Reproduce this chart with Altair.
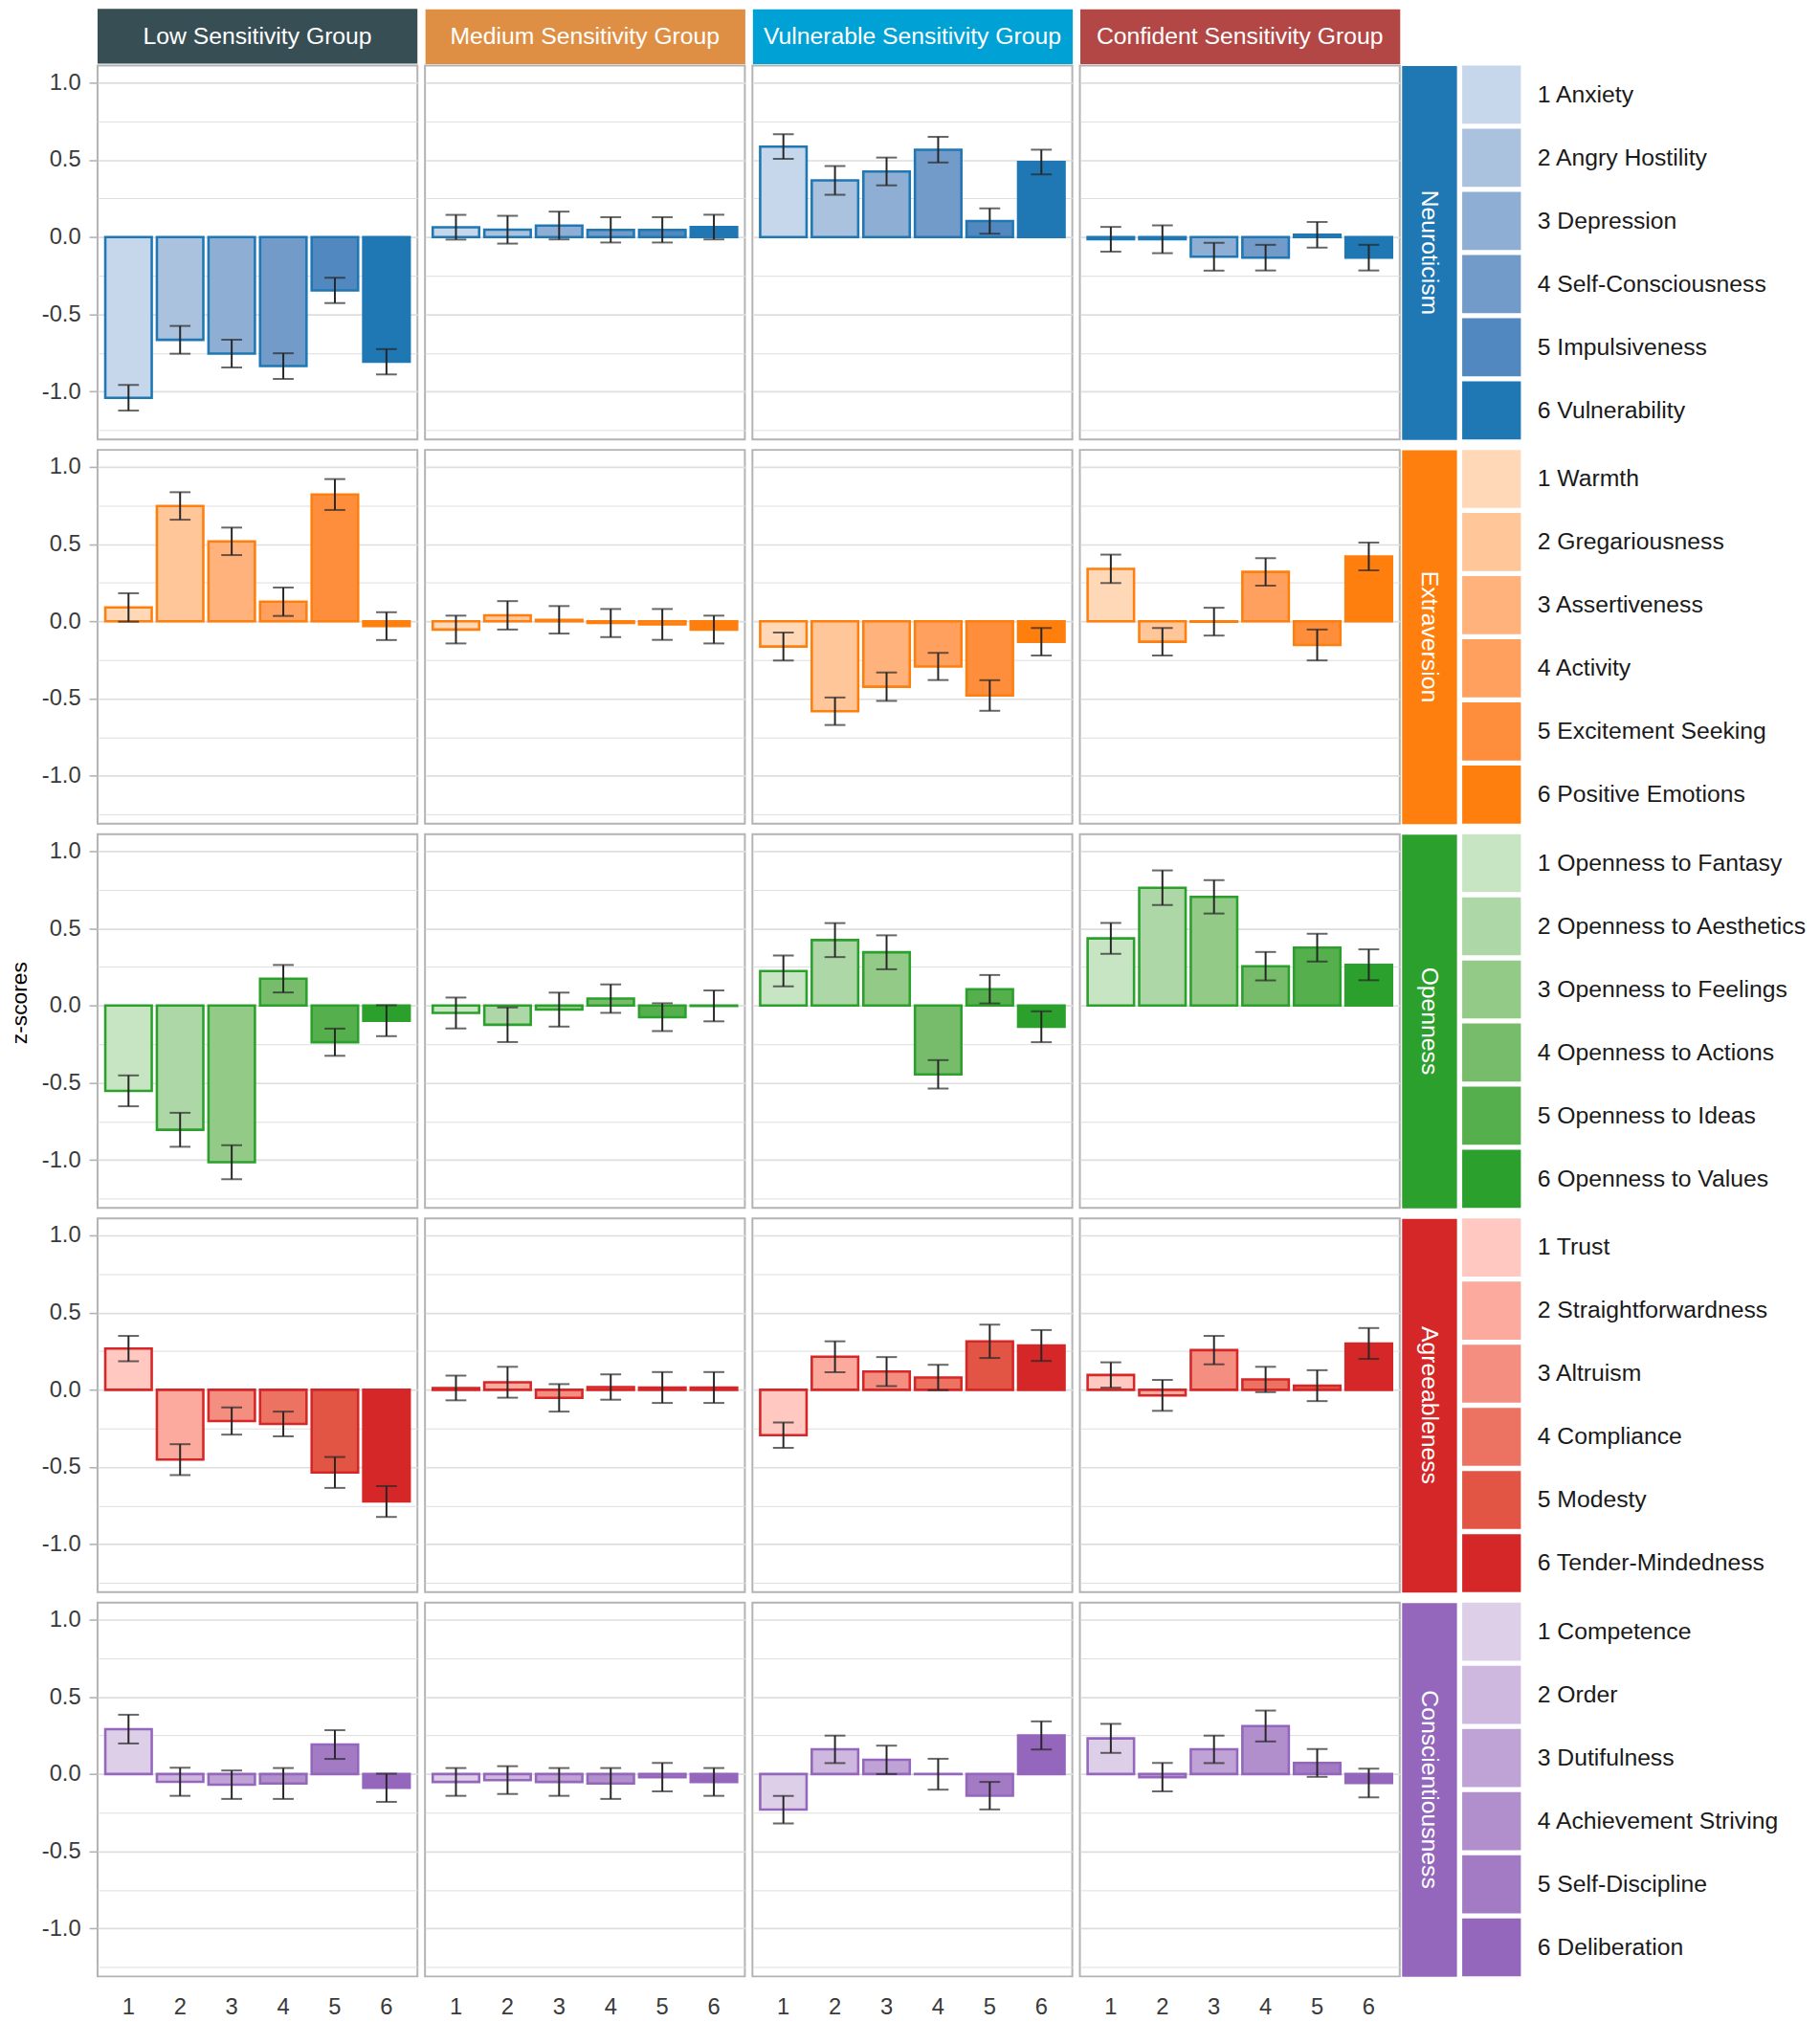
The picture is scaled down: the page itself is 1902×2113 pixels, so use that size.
import altair as alt
import pandas as pd

FONT = "Liberation Sans"

groups = ["Low Sensitivity Group", "Medium Sensitivity Group",
          "Vulnerable Sensitivity Group", "Confident Sensitivity Group"]
group_colors = ["#374E55", "#DF8F44", "#00A1D5", "#B24745"]

traits = ["Neuroticism", "Extraversion", "Openness", "Agreeableness", "Conscientiousness"]
trait_colors = ["#1f77b4", "#ff7f0e", "#2ca02c", "#d62728", "#9467bd"]

facet_numbers = ["1", "2", "3", "4", "5", "6"]

neuroticism_facets = ["1 Anxiety", "2 Angry Hostility", "3 Depression",
                      "4 Self-Consciousness", "5 Impulsiveness", "6 Vulnerability"]
extraversion_facets = ["1 Warmth", "2 Gregariousness", "3 Assertiveness",
                       "4 Activity", "5 Excitement Seeking", "6 Positive Emotions"]
openness_facets = ["1 Openness to Fantasy", "2 Openness to Aesthetics", "3 Openness to Feelings",
                   "4 Openness to Actions", "5 Openness to Ideas", "6 Openness to Values"]
agreeableness_facets = ["1 Trust", "2 Straightforwardness", "3 Altruism",
                        "4 Compliance", "5 Modesty", "6 Tender-Mindedness"]
conscientiousness_facets = ["1 Competence", "2 Order", "3 Dutifulness",
                            "4 Achievement Striving", "5 Self-Discipline", "6 Deliberation"]

neuroticism_shades = ["#c6d6eb", "#abc2df", "#8faed4", "#729bc9", "#5088bf", "#1f77b4"]
extraversion_shades = ["#ffd8b8", "#ffc69a", "#ffb27c", "#ffa05e", "#ff8e3c", "#ff7f0e"]
openness_shades = ["#c7e5c2", "#add7a6", "#93ca88", "#76bc6b", "#55af4d", "#2ca02c"]
agreeableness_shades = ["#ffc8c0", "#fbaa9d", "#f48e80", "#ec7262", "#e25443", "#d62728"]
conscientiousness_shades = ["#decfe9", "#cfb8e0", "#c0a3d6", "#b18fcd", "#a37bc5", "#9467bd"]

# means: one list per group (Low, Medium, Vulnerable, Confident)
neuroticism_means = [
    [-1.04, -0.665, -0.754, -0.835, -0.345, -0.807],
    [0.064, 0.048, 0.075, 0.047, 0.047, 0.065],
    [0.586, 0.367, 0.425, 0.566, 0.104, 0.486],
    [-0.014, -0.014, -0.127, -0.133, 0.015, -0.133],
]
neuroticism_errors = [
    [0.083, 0.09, 0.09, 0.083, 0.082, 0.082],
    [0.08, 0.09, 0.09, 0.082, 0.082, 0.08],
    [0.08, 0.093, 0.09, 0.083, 0.082, 0.08],
    [0.08, 0.09, 0.09, 0.083, 0.083, 0.083],
]
extraversion_means = [
    [0.09, 0.747, 0.518, 0.127, 0.821, -0.031],
    [-0.053, 0.039, 0.010, -0.011, -0.02, -0.053],
    [-0.163, -0.582, -0.423, -0.292, -0.48, -0.132],
    [0.34, -0.132, -0.002, 0.32, -0.153, 0.42],
]
extraversion_errors = [
    [0.092, 0.089, 0.089, 0.092, 0.10, 0.09],
    [0.09, 0.092, 0.089, 0.091, 0.10, 0.09],
    [0.091, 0.089, 0.092, 0.088, 0.099, 0.089],
    [0.092, 0.089, 0.09, 0.089, 0.10, 0.09],
]
openness_means = [
    [-0.552, -0.804, -1.014, 0.174, -0.237, -0.098],
    [-0.048, -0.124, -0.026, 0.045, -0.075, -0.002],
    [0.224, 0.424, 0.345, -0.445, 0.106, -0.137],
    [0.435, 0.763, 0.704, 0.255, 0.375, 0.264],
]
openness_errors = [
    [0.10, 0.11, 0.11, 0.089, 0.088, 0.10],
    [0.10, 0.112, 0.11, 0.092, 0.09, 0.10],
    [0.10, 0.11, 0.11, 0.092, 0.092, 0.10],
    [0.10, 0.112, 0.108, 0.092, 0.09, 0.10],
]
agreeableness_means = [
    [0.267, -0.452, -0.202, -0.221, -0.535, -0.723],
    [0.012, 0.049, -0.052, 0.018, 0.015, 0.015],
    [-0.294, 0.214, 0.118, 0.08, 0.314, 0.287],
    [0.096, -0.036, 0.257, 0.067, 0.027, 0.30],
]
agreeableness_errors = [
    [0.082, 0.10, 0.088, 0.08, 0.10, 0.10],
    [0.08, 0.10, 0.089, 0.082, 0.10, 0.10],
    [0.082, 0.10, 0.094, 0.082, 0.108, 0.10],
    [0.082, 0.10, 0.092, 0.082, 0.10, 0.10],
]
conscientiousness_means = [
    [0.291, -0.05, -0.069, -0.061, 0.191, -0.089],
    [-0.051, -0.039, -0.051, -0.061, -0.02, -0.051],
    [-0.23, 0.16, 0.092, -0.001, -0.14, 0.25],
    [0.231, -0.02, 0.16, 0.311, 0.072, -0.058],
]
conscientiousness_errors = [
    [0.093, 0.091, 0.092, 0.10, 0.093, 0.091],
    [0.09, 0.09, 0.09, 0.10, 0.092, 0.09],
    [0.089, 0.089, 0.092, 0.10, 0.089, 0.091],
    [0.094, 0.092, 0.089, 0.10, 0.09, 0.093],
]

y_ticks = [-1.25, -1.0, -0.75, -0.5, -0.25, 0.0, 0.25, 0.5, 0.75, 1.0]
y_domain = [-1.31, 1.11]

all_facets = [neuroticism_facets, extraversion_facets, openness_facets,
              agreeableness_facets, conscientiousness_facets]
all_shades = [neuroticism_shades, extraversion_shades, openness_shades,
              agreeableness_shades, conscientiousness_shades]
all_means = [neuroticism_means, extraversion_means, openness_means,
             agreeableness_means, conscientiousness_means]
all_errors = [neuroticism_errors, extraversion_errors, openness_errors,
              agreeableness_errors, conscientiousness_errors]

records = []
for ti, trait in enumerate(traits):
    for gi, grp in enumerate(groups):
        for fi in range(6):
            records.append({
                "trait": trait, "group": grp, "facet": facet_numbers[fi],
                "label": all_facets[ti][fi],
                "mean": all_means[ti][gi][fi], "err": all_errors[ti][gi][fi],
            })
df = pd.DataFrame(records)

label_domain = [l for fl in all_facets for l in fl]
label_range = [c for sl in all_shades for c in sl]
fill_scale = alt.Scale(domain=label_domain, range=label_range)

PW, PH = 338, 395
HH = 58
STRIP_W = 58
SW_W = 62

MAJOR = "abs(datum.value*2 - round(datum.value*2)) < 0.001"
LABEL_EXPR = ("abs(datum.value*2 - round(datum.value*2)) < 0.001 ? "
              "((datum.value < -0.001 ? '-' : '') + format(abs(datum.value), '.1f')) : ''")

TICK_FS = 24
TITLE_FS = 23
TICK_SIZE = 9
LABEL_PAD = 9
TITLE_PAD = 11


def y_axis(first_col, show_title):
    if first_col:
        return alt.Axis(
            values=y_ticks, labelExpr=LABEL_EXPR, labelOverlap=False,
            labelFontSize=TICK_FS, labelColor="#3a3a3a", labelPadding=LABEL_PAD,
            tickSize=TICK_SIZE, tickWidth=1.6,
            tickColor={"condition": {"test": MAJOR, "value": "#b3b3b3"}, "value": "transparent"},
            domain=False,
            gridColor="#dedede",
            gridWidth={"condition": {"test": MAJOR, "value": 1.7}, "value": 1.0},
            title="z-scores", titleFontSize=TITLE_FS, titleFontWeight="normal",
            titleColor="#000000", titleOpacity=1 if show_title else 0,
            titlePadding=TITLE_PAD, titleY=178,
        )
    return alt.Axis(
        values=y_ticks, labels=False, ticks=False, domain=False, title=None,
        gridColor="#dedede",
        gridWidth={"condition": {"test": MAJOR, "value": 1.7}, "value": 1.0},
    )


def panel(ti, gi):
    d = df[(df["trait"] == traits[ti]) & (df["group"] == groups[gi])]
    ax = y_axis(gi == 0, ti == 2)
    yscale = alt.Scale(domain=y_domain, nice=False)
    if ti == 4:
        xaxis = alt.Axis(title=None, labelAngle=0, ticks=False, domain=False, grid=False,
                         labelFontSize=TICK_FS, labelColor="#3a3a3a", labelPadding=21)
    else:
        xaxis = None
    x = alt.X("facet:N", sort=facet_numbers,
              scale=alt.Scale(paddingInner=0.1, paddingOuter=0.15), axis=xaxis)
    base = alt.Chart(d).transform_calculate(
        lo="datum.mean - datum.err", hi="datum.mean + datum.err")
    bars = base.mark_bar(stroke=trait_colors[ti], strokeWidth=2.6).encode(
        x=x,
        y=alt.Y("mean:Q", scale=yscale, axis=ax, stack=None),
        fill=alt.Fill("label:N", scale=fill_scale, legend=None),
    )
    rule = base.mark_rule(color="#262626", strokeWidth=2).encode(
        x=x, y=alt.Y("lo:Q", scale=yscale, axis=ax), y2="hi:Q")
    cap_lo = base.mark_tick(color="#262626", size=22, thickness=2).encode(
        x=x, y=alt.Y("lo:Q", scale=yscale, axis=ax))
    cap_hi = base.mark_tick(color="#262626", size=22, thickness=2).encode(
        x=x, y=alt.Y("hi:Q", scale=yscale, axis=ax))
    return alt.layer(bars, rule, cap_lo, cap_hi).properties(width=PW, height=PH)


def header(gi):
    txt = alt.Chart(pd.DataFrame({"g": [groups[gi]]})).mark_text(
        color="white", fontSize=25).encode(text="g:N")
    if gi == 0:
        # invisible axis of the same width as the panels' y axis, keeps columns aligned
        ghost = alt.Chart(pd.DataFrame({"v": [0.5]})).mark_point(opacity=0).encode(
            y=alt.Y("v:Q", scale=alt.Scale(domain=[0, 1]),
                    axis=alt.Axis(values=[0.5], labelExpr="'-1.0'", labelOpacity=0,
                                  labelFontSize=TICK_FS, labelPadding=LABEL_PAD,
                                  tickSize=TICK_SIZE, tickOpacity=0, domain=False, grid=False,
                                  title="z", titleFontSize=TITLE_FS,
                                  titleFontWeight="normal", titleOpacity=0,
                                  titlePadding=TITLE_PAD)))
        ch = alt.layer(txt, ghost)
    else:
        ch = txt
    return ch.properties(width=PW, height=HH,
                         view=alt.ViewBackground(fill=group_colors[gi], stroke="transparent"))


def strip(ti):
    return alt.Chart(pd.DataFrame({"name": [traits[ti]]})).mark_text(
        angle=90, color="white", fontSize=25).encode(text="name:N").properties(
        width=STRIP_W, height=PH,
        view=alt.ViewBackground(fill=trait_colors[ti], stroke="transparent"))


def swatches(ti):
    d = pd.DataFrame({"label": all_facets[ti]})
    return alt.Chart(d).mark_rect().encode(
        y=alt.Y("label:N", sort=all_facets[ti],
                scale=alt.Scale(paddingInner=0.08, paddingOuter=0),
                axis=alt.Axis(orient="right", title=None, ticks=False, domain=False,
                              grid=False, labelPadding=17, labelFontSize=25,
                              labelLimit=0, labelColor="#1a1a1a")),
        fill=alt.Fill("label:N", scale=fill_scale, legend=None),
    ).properties(width=SW_W, height=PH,
                 view=alt.ViewBackground(stroke="transparent"))


rows = []
for ti in range(5):
    panels = alt.hconcat(*[panel(ti, gi) for gi in range(4)], spacing=6)
    right = alt.hconcat(strip(ti), swatches(ti), spacing=4)
    rows.append(alt.hconcat(panels, right, spacing=0))

header_row = alt.hconcat(*[header(gi) for gi in range(4)], spacing=6)
body = alt.vconcat(*rows, spacing=6)

chart = alt.vconcat(header_row, body, spacing=0).properties(
    padding={"left": 0, "top": -11.5, "right": 5, "bottom": 0},
    background="white",
).configure(font=FONT).configure_view(stroke="#b3b3b3", strokeWidth=2)

chart.save("out.html", embed_options={"renderer": "svg", "actions": False})
